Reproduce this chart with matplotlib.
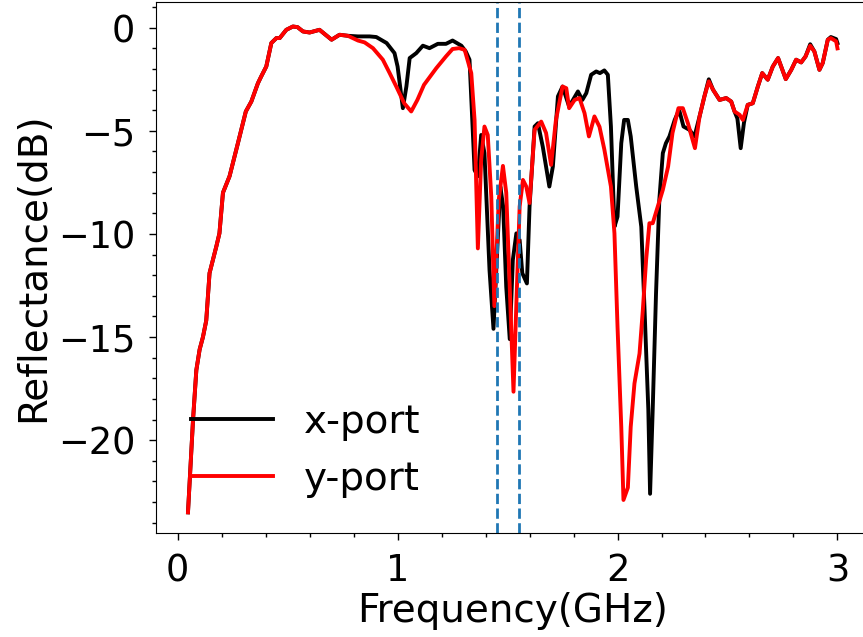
import matplotlib
matplotlib.use("Agg")
import matplotlib.pyplot as plt
from matplotlib.ticker import MultipleLocator

# x-port (black)
freq_x = [0.047, 0.07, 0.085, 0.10, 0.115, 0.13, 0.145, 0.176, 0.19, 0.206, 0.236, 0.274,
          0.31, 0.335, 0.365, 0.38, 0.403, 0.426, 0.449, 0.464, 0.494, 0.524, 0.545, 0.57,
          0.60, 0.645, 0.66, 0.70, 0.736, 0.774, 0.82, 0.873, 0.903, 0.95, 0.986, 1.0,
          1.024, 1.04, 1.055, 1.085, 1.115, 1.145, 1.183, 1.22, 1.25, 1.29, 1.31, 1.327,
          1.35, 1.365, 1.38, 1.395, 1.418, 1.436, 1.449, 1.467, 1.48, 1.494, 1.51, 1.524,
          1.54, 1.555, 1.567, 1.588, 1.60, 1.623, 1.638, 1.66, 1.69, 1.706, 1.729, 1.75,
          1.78, 1.82, 1.84, 1.858, 1.88, 1.903, 1.92, 1.94, 1.956, 1.97, 1.986, 2.0,
          2.017, 2.03, 2.047, 2.06, 2.085, 2.108, 2.123, 2.14, 2.148, 2.16, 2.175, 2.19,
          2.206, 2.22, 2.236, 2.26, 2.28, 2.30, 2.327, 2.35, 2.373, 2.395, 2.415, 2.434,
          2.464, 2.494, 2.517, 2.532, 2.545, 2.56, 2.575, 2.592, 2.615, 2.638, 2.658, 2.683,
          2.706, 2.73, 2.765, 2.79, 2.812, 2.835, 2.855, 2.876, 2.895, 2.918, 2.933, 2.956,
          2.97, 2.994, 3.0]
refl_x = [-23.5, -19.0, -16.6, -15.6, -15.0, -14.2, -11.9, -10.6, -9.97, -8.0, -7.2, -5.6,
          -4.06, -3.58, -2.69, -2.36, -1.88, -0.74, -0.5, -0.5, -0.1, 0.06, 0.03, -0.18,
          -0.23, -0.1, -0.23, -0.58, -0.34, -0.39, -0.42, -0.42, -0.45, -0.74, -1.23, -1.88,
          -3.9, -2.85, -1.47, -1.23, -0.87, -0.99, -0.78, -0.78, -0.62, -0.87, -1.15, -1.55,
          -6.9, -7.2, -5.2, -6.08, -11.75, -14.6, -11.75, -7.7, -8.67, -12.56, -15.1, -11.26,
          -9.97, -10.3, -11.9, -12.4, -8.67, -4.79, -4.63, -5.76, -7.7, -6.73, -3.33, -2.85,
          -3.82, -3.09, -3.5, -3.17, -2.28, -2.12, -2.2, -2.07, -2.28, -4.79, -9.65, -9.16,
          -5.6, -4.47, -4.47, -5.27, -7.7, -9.65, -13.7, -18.5, -22.6, -18.5, -12.9, -8.35,
          -6.08, -5.6, -5.27, -4.47, -3.98, -4.79, -4.95, -5.27, -4.3, -3.33, -2.5, -3.0,
          -3.5, -3.41, -3.58, -4.06, -4.4, -5.84, -4.6, -3.74, -3.66, -2.85, -2.2, -2.52,
          -1.88, -1.47, -2.49, -2.04, -1.55, -1.68, -1.39, -0.8, -1.15, -2.04, -1.71, -0.58,
          -0.45, -0.55, -0.75]

# y-port (red)
freq_y = [0.047, 0.07, 0.085, 0.10, 0.115, 0.13, 0.145, 0.176, 0.19, 0.206, 0.236, 0.274,
          0.31, 0.335, 0.365, 0.38, 0.403, 0.426, 0.449, 0.464, 0.494, 0.524, 0.545, 0.57,
          0.60, 0.645, 0.66, 0.70, 0.736, 0.774, 0.82, 0.85, 0.888, 0.933, 0.964, 0.994,
          1.03, 1.062, 1.09, 1.12, 1.176, 1.22, 1.25, 1.28, 1.305, 1.335, 1.35, 1.365,
          1.38, 1.395, 1.41, 1.426, 1.44, 1.46, 1.479, 1.494, 1.51, 1.527, 1.54, 1.555,
          1.57, 1.585, 1.60, 1.623, 1.653, 1.675, 1.698, 1.72, 1.75, 1.767, 1.78, 1.805,
          1.827, 1.85, 1.87, 1.895, 1.918, 1.94, 1.97, 1.986, 2.0, 2.017, 2.027, 2.047,
          2.06, 2.077, 2.1, 2.115, 2.13, 2.145, 2.16, 2.183, 2.206, 2.23, 2.25, 2.277,
          2.297, 2.32, 2.352, 2.373, 2.395, 2.415, 2.434, 2.464, 2.494, 2.517, 2.532, 2.555,
          2.57, 2.592, 2.615, 2.638, 2.658, 2.683, 2.706, 2.73, 2.765, 2.79, 2.812, 2.835,
          2.855, 2.876, 2.895, 2.918, 2.933, 2.956, 2.97, 2.994, 3.0]
refl_y = [-23.5, -19.0, -16.6, -15.6, -15.0, -14.2, -11.9, -10.6, -9.97, -8.0, -7.2, -5.6,
          -4.06, -3.58, -2.69, -2.36, -1.88, -0.74, -0.5, -0.5, -0.1, 0.06, 0.03, -0.18,
          -0.23, -0.1, -0.23, -0.58, -0.34, -0.39, -0.62, -0.71, -0.99, -1.55, -2.2, -2.85,
          -3.66, -4.06, -3.5, -2.77, -1.96, -1.39, -1.03, -0.99, -1.07, -2.2, -4.47, -10.7,
          -6.4, -4.79, -5.2, -8.2, -13.5, -8.35, -6.7, -8.0, -12.6, -17.65, -13.4, -8.67,
          -7.38, -7.7, -8.5, -4.95, -4.55, -5.1, -6.65, -4.47, -2.85, -2.93, -3.9, -3.5,
          -3.41, -4.14, -5.27, -4.3, -4.8, -5.9, -7.7, -9.97, -14.5, -19.35, -22.9, -22.3,
          -19.35, -17.25, -15.8, -13.7, -11.26, -9.48, -9.48, -8.67, -7.86, -6.73, -5.1, -3.9,
          -3.9, -4.63, -5.84, -4.3, -3.33, -2.6, -3.0, -3.5, -3.41, -3.58, -4.06, -4.22,
          -4.47, -3.74, -3.66, -2.85, -2.2, -2.52, -1.88, -1.47, -2.49, -2.04, -1.55, -1.68,
          -1.39, -0.87, -1.15, -2.04, -1.71, -0.58, -0.5, -0.66, -1.0]

band_edges = [1.45, 1.55]

fig = plt.figure(figsize=(8.63, 6.37), dpi=100)
ax = fig.add_axes([0.181, 0.1633, 0.827, 0.8336])

ax.plot(freq_x, refl_x, color="black", lw=2.8, label="x-port")
ax.plot(freq_y, refl_y, color="red", lw=2.8, label="y-port")
for f in band_edges:
    ax.axvline(f, color="#1f77b4", ls="--", lw=2)

ax.set_xlim(-0.0975, 3.1475)
ax.set_ylim(-24.5, 1.25)
ax.set_xticks([0, 1, 2, 3])
ax.set_yticks([0, -5, -10, -15, -20])
ax.xaxis.set_minor_locator(MultipleLocator(0.2))
ax.yaxis.set_minor_locator(MultipleLocator(1))
ax.tick_params(which="major", length=5, width=1, labelsize=26.5)
ax.tick_params(axis="y", which="major", pad=10)
ax.tick_params(axis="x", which="major", pad=9)
ax.tick_params(which="minor", length=3, width=1)
ax.spines["right"].set_visible(False)

ax.set_xlabel("Frequency(GHz)", fontsize=28, labelpad=2)
ax.set_ylabel("Reflectance(dB)", fontsize=28, labelpad=4)

ax.legend(loc="lower left", bbox_to_anchor=(0.0, 0.0), frameon=False, fontsize=28,
          handlelength=2.1, labelspacing=0.5)

fig.savefig("out.png", dpi=100)
